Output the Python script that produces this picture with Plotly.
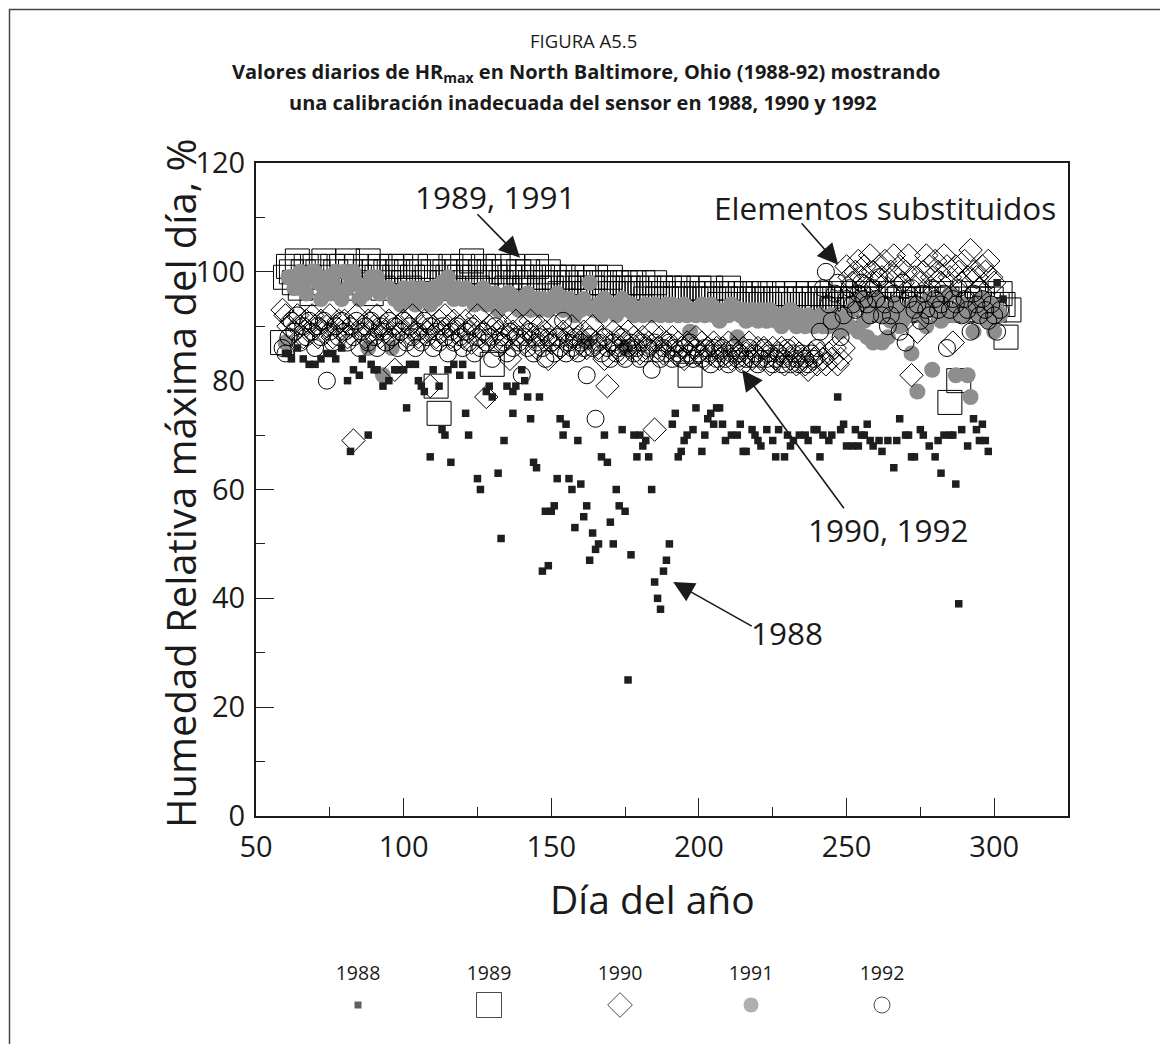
import plotly.graph_objects as go

# ---- data ----
days88 = [60, 61, 62, 64, 66, 68, 70, 72, 74, 76, 77, 79, 81, 82, 83, 85, 86, 88, 89, 90,
          91, 93, 95, 97, 98, 100, 101, 102, 104, 105, 106, 107, 109, 110, 112, 113, 114, 115, 116, 117,
          119, 120, 121, 122, 123, 125, 126, 128, 129, 130, 132, 133, 134, 135, 137, 137, 138, 140, 141, 142,
          143, 144, 145, 146, 147, 148, 149, 150, 151, 152, 153, 154, 155, 156, 157, 158, 159, 160, 161, 162,
          163, 164, 165, 166, 167, 168, 169, 170, 171, 172, 173, 174, 175, 176, 177, 178, 179, 180, 181, 182,
          183, 184, 185, 186, 187, 188, 189, 190, 191, 192, 193, 194, 195, 196, 198, 199, 201, 202, 203, 204,
          205, 206, 207, 208, 209, 211, 213, 214, 215, 216, 218, 219, 220, 221, 223, 225, 226, 227, 229, 230,
          231, 232, 234, 236, 237, 239, 240, 241, 242, 244, 245, 247, 248, 249, 250, 252, 253, 254, 255, 256,
          257, 258, 259, 261, 262, 264, 266, 267, 268, 270, 271, 272, 273, 275, 276, 278, 280, 281, 282, 283,
          285, 286, 287, 288, 289, 291, 293, 294, 295, 296, 297, 298, 301, 303]
rh88 = [85, 85, 84, 86, 84, 83, 83, 84, 85, 85, 84, 86, 80, 67, 82, 81, 84, 70, 83, 82,
        82, 79, 80, 82, 82, 82, 75, 83, 83, 80, 79, 78, 66, 82, 79, 71, 70, 82, 65, 83,
        81, 83, 74, 70, 81, 62, 60, 78, 79, 77, 63, 51, 69, 79, 74, 78, 79, 82, 80, 77,
        73, 65, 64, 77, 45, 56, 46, 56, 57, 62, 73, 70, 72, 62, 60, 53, 69, 61, 55, 57,
        47, 52, 49, 50, 66, 70, 65, 54, 50, 60, 57, 71, 56, 25, 48, 70, 66, 70, 68, 69,
        66, 60, 43, 40, 38, 45, 47, 50, 72, 74, 66, 67, 69, 70, 71, 75, 67, 70, 73, 74,
        72, 75, 75, 72, 69, 70, 70, 72, 67, 67, 71, 70, 69, 68, 71, 69, 66, 71, 66, 70,
        68, 69, 70, 70, 69, 71, 71, 66, 70, 69, 70, 77, 71, 72, 68, 68, 71, 68, 70, 70,
        72, 69, 68, 69, 67, 69, 64, 69, 73, 70, 70, 66, 66, 71, 70, 68, 66, 69, 63, 70,
        70, 70, 61, 39, 71, 68, 73, 71, 69, 72, 69, 67, 98, 95]

days89 = list(range(59, 306))
rh89 = [87, 99, 101, 100, 98, 102, 97, 100, 101, 99, 96, 101, 100, 98, 102, 99, 97, 101, 100, 98,
        101, 99, 102, 100, 97, 101, 99, 98, 100, 102, 96, 100, 99, 101, 97, 100, 98, 101, 99, 100,
        101, 98, 100, 97, 99, 101, 100, 96, 98, 99, 101, 100, 79, 74, 98, 100, 99, 101, 97, 100,
        99, 101, 98, 100, 102, 99, 97, 100, 101, 98, 100, 83, 99, 101, 98, 100, 97, 99, 101, 98,
        100, 99, 97, 100, 98, 99, 101, 97, 99, 98, 100, 97, 99, 98, 96, 99, 98, 97, 99, 96,
        98, 97, 99, 96, 98, 97, 99, 98, 96, 98, 97, 99, 96, 98, 97, 96, 98, 97, 96, 98,
        97, 96, 98, 95, 97, 96, 98, 95, 97, 96, 95, 97, 96, 95, 97, 96, 95, 97, 81, 96,
        95, 97, 96, 95, 96, 97, 95, 96, 94, 96, 95, 97, 95, 96, 94, 96, 95, 96, 94, 95,
        96, 95, 94, 96, 95, 94, 96, 95, 94, 95, 96, 94, 95, 94, 96, 95, 94, 95, 96, 94,
        95, 94, 96, 95, 94, 95, 93, 95, 94, 96, 94, 95, 93, 95, 94, 95, 93, 94, 96, 94,
        95, 93, 94, 95, 93, 94, 96, 94, 93, 95, 94, 93, 95, 94, 93, 95, 94, 93, 95, 94,
        93, 95, 94, 96, 93, 95, 76, 94, 93, 80, 94, 93, 95, 94, 96, 93, 94, 95, 93, 94,
        95, 93, 94, 96, 94, 88, 93]

days90 = list(range(59, 301))
rh90 = [93, 92, 90, 91, 89, 92, 90, 88, 91, 89, 92, 90, 88, 91, 89, 90, 92, 88, 90, 91,
        89, 91, 88, 90, 69, 92, 89, 90, 88, 91, 89, 90, 92, 88, 90, 89, 91, 88, 82, 90,
        89, 91, 88, 90, 92, 89, 88, 90, 91, 89, 79, 90, 88, 91, 89, 92, 90, 88, 91, 89,
        90, 88, 91, 89, 87, 90, 92, 88, 89, 77, 90, 88, 91, 89, 87, 90, 88, 84, 89, 91,
        88, 90, 87, 89, 91, 88, 86, 90, 88, 89, 84, 87, 90, 88, 86, 89, 87, 88, 90, 86,
        88, 87, 89, 86, 88, 90, 87, 86, 88, 84, 79, 87, 89, 86, 88, 85, 87, 89, 86, 88,
        87, 85, 88, 86, 87, 89, 71, 86, 88, 85, 87, 86, 88, 85, 87, 86, 84, 87, 85, 86,
        88, 85, 87, 84, 86, 85, 87, 86, 84, 86, 85, 87, 84, 86, 85, 84, 86, 85, 87, 84,
        85, 86, 84, 86, 85, 83, 86, 84, 85, 86, 83, 85, 84, 86, 83, 85, 84, 83, 82, 85,
        84, 83, 85, 84, 83, 85, 84, 86, 83, 84, 86, 101, 99, 98, 100, 102, 99, 101, 97, 103,
        100, 98, 101, 99, 102, 97, 100, 103, 99, 101, 98, 100, 103, 81, 99, 89, 98, 100, 103, 101,
        99, 102, 100, 98, 103, 101, 99, 87, 101, 100, 98, 102, 99, 104, 100, 99, 97, 101, 100, 102,
        99, 98]

days91 = list(range(60, 303))
rh91 = [87, 99, 99, 97, 98, 100, 97, 96, 99, 100, 100, 98, 95, 97, 99, 96, 98, 100, 96, 95,
        100, 97, 99, 100, 98, 95, 97, 96, 86, 99, 98, 99, 96, 81, 97, 97, 86, 95, 96, 94,
        97, 96, 95, 97, 94, 96, 97, 95, 96, 94, 97, 95, 96, 98, 97, 99, 96, 95, 97, 96,
        95, 97, 96, 96, 94, 96, 95, 97, 94, 96, 95, 96, 93, 95, 94, 96, 96, 94, 95, 93,
        95, 94, 96, 93, 94, 95, 93, 95, 94, 93, 95, 94, 96, 95, 93, 94, 95, 93, 92, 94,
        93, 95, 87, 98, 93, 93, 94, 92, 95, 93, 94, 93, 92, 94, 95, 86, 93, 94, 92, 93,
        93, 92, 94, 93, 92, 94, 93, 92, 93, 94, 92, 94, 93, 92, 93, 94, 92, 89, 93, 92,
        93, 94, 92, 93, 94, 92, 93, 91, 92, 93, 92, 94, 93, 88, 92, 93, 91, 92, 93, 92,
        91, 93, 92, 91, 93, 92, 91, 92, 90, 92, 91, 93, 91, 90, 92, 91, 90, 92, 91, 90,
        91, 92, 90, 91, 90, 92, 91, 90, 89, 91, 92, 90, 93, 94, 89, 95, 91, 88, 93, 87,
        95, 92, 87, 93, 88, 91, 94, 92, 90, 91, 93, 92, 85, 94, 78, 92, 93, 90, 95, 82,
        93, 94, 91, 95, 93, 96, 92, 81, 93, 94, 92, 81, 77, 89, 94, 92, 95, 93, 91, 94,
        89, 93, 92]

days92 = list(range(59, 303))
rh92 = [86, 85, 88, 91, 89, 92, 87, 90, 88, 91, 89, 86, 90, 88, 91, 80, 89, 87, 90, 88,
        91, 89, 87, 90, 88, 91, 86, 89, 90, 87, 91, 88, 86, 90, 89, 87, 91, 88, 90, 86,
        89, 91, 87, 90, 88, 86, 89, 87, 91, 88, 90, 86, 89, 87, 90, 88, 85, 89, 87, 90,
        88, 86, 89, 87, 90, 85, 88, 86, 89, 87, 88, 84, 90, 86, 88, 87, 85, 89, 86, 88,
        87, 81, 88, 86, 89, 85, 87, 88, 86, 84, 88, 87, 85, 88, 86, 91, 85, 87, 86, 88,
        85, 87, 86, 81, 88, 86, 73, 87, 85, 88, 86, 84, 87, 85, 86, 88, 84, 86, 87, 85,
        86, 84, 87, 85, 86, 82, 87, 85, 84, 86, 85, 87, 84, 86, 85, 84, 86, 85, 87, 84,
        86, 85, 84, 86, 85, 83, 86, 84, 85, 86, 84, 83, 85, 86, 84, 85, 83, 84, 86, 84,
        85, 83, 84, 86, 84, 85, 83, 84, 85, 83, 84, 86, 83, 85, 84, 83, 85, 84, 83, 85,
        84, 86, 89, 97, 100, 94, 91, 96, 98, 88, 92, 95, 97, 94, 93, 96, 98, 95, 94, 92,
        97, 95, 99, 92, 94, 90, 92, 96, 94, 89, 98, 87, 95, 97, 93, 94, 91, 96, 93, 92,
        97, 95, 93, 94, 96, 86, 93, 95, 94, 97, 92, 95, 93, 89, 96, 94, 92, 95, 93, 91,
        94, 92, 89, 93]

years = ["1988", "1989", "1990", "1991", "1992"]

FONT = "Open Sans"
INK = "#1a1a1a"

# The page body adds an 8px margin, so the figure is 8px smaller and every
# reference pixel position p (in the 1168x1044 picture) is mapped through px/py.
OFF = 8
W, H = 1168 - OFF, 1044 - OFF
L, R, T, B = 256 - OFF, 100, 163 - OFF, 12
PH = H - T - B
PW = W - L - R


def py(p):
    return (H - B - (p - OFF)) / PH


def px(p):
    return (p - OFF - L) / PW


fig = go.Figure()

fig.add_trace(go.Scatter(x=days89, y=rh89, mode="markers",
                         marker=dict(symbol="square-open", size=24, color="black", line=dict(width=1))))
fig.add_trace(go.Scatter(x=days91, y=rh91, mode="markers",
                         marker=dict(symbol="circle", size=16, color="#8e8e8e", line=dict(width=0))))
fig.add_trace(go.Scatter(x=days90, y=rh90, mode="markers",
                         marker=dict(symbol="diamond-open", size=18, color="black", line=dict(width=1))))
fig.add_trace(go.Scatter(x=days92, y=rh92, mode="markers",
                         marker=dict(symbol="circle-open", size=17, color="black", line=dict(width=1))))
fig.add_trace(go.Scatter(x=days88, y=rh88, mode="markers",
                         marker=dict(symbol="square", size=7.5, color="#1e1e1e", line=dict(width=0))))

# custom legend (labels above symbols), placed on a hidden pixel-scaled axis
leg_x = [358, 489, 620, 751, 882]
leg_sym_y, leg_lab_y = 1005, 975
fig.add_trace(go.Scatter(x=leg_x, y=[leg_sym_y] * 5, mode="markers", xaxis="x2", yaxis="y2",
                         marker=dict(symbol=["square", "square-open", "diamond-open", "circle", "circle-open"],
                                     size=[8, 25, 19, 16, 16],
                                     color=["#1e1e1e", "black", "black", "#8e8e8e", "black"],
                                     line=dict(width=1))))
fig.add_trace(go.Scatter(x=leg_x, y=[leg_lab_y] * 5, mode="text", text=years, xaxis="x2", yaxis="y2",
                         textfont=dict(family=FONT, size=19.5, color=INK)))

main_dom = py(816)
leg_top = py(900)
fig.update_layout(
    template="none",
    width=W, height=H,
    margin=dict(l=L, r=R, t=T, b=B, autoexpand=False),
    paper_bgcolor="white", plot_bgcolor="white",
    showlegend=False,
    font=dict(family=FONT, color=INK),
    xaxis=dict(range=[50, 325], domain=[0, 1], anchor="y", tickvals=[50, 100, 150, 200, 250, 300],
               ticks="inside", ticklen=18, tickwidth=1, tickcolor="#222",
               minor=dict(tickvals=[75, 125, 175, 225, 275], ticks="inside", ticklen=9, tickcolor="#222"),
               showline=True, linecolor=INK, linewidth=2, mirror=True, automargin=False,
               showgrid=False, zeroline=False, ticklabelstandoff=4,
               tickfont=dict(family=FONT, size=29, color=INK)),
    yaxis=dict(range=[0, 120], domain=[main_dom, 1], anchor="x", dtick=20,
               ticks="inside", ticklen=18, tickwidth=1, tickcolor="#222",
               minor=dict(dtick=10, ticks="inside", ticklen=9, tickcolor="#222"),
               showline=True, linecolor=INK, linewidth=2, mirror=True, automargin=False,
               showgrid=False, zeroline=False, ticklabelstandoff=3,
               tickfont=dict(family=FONT, size=29, color=INK)),
    # pixel-scaled helper axes for the legend: values are reference picture pixels
    xaxis2=dict(range=[256, 1068], domain=[0, 1], anchor="y2", visible=False),
    yaxis2=dict(range=[H - B + OFF, 900], domain=[0, leg_top], anchor="x2", visible=False),
)


# titles
def paper_text(text, x, y, size, angle=0):
    fig.add_annotation(xref="paper", yref="paper", x=px(x), y=py(y), text=text, textangle=angle,
                       xanchor="center", yanchor="middle", showarrow=False, font=dict(size=size))


paper_text("FIGURA A5.5", 583, 40, 18.5)
paper_text("<b>Valores diarios de HR<sub>max</sub> en North Baltimore, Ohio (1988-92) mostrando</b>", 586, 72, 20)
paper_text("<b>una calibración inadecuada del sensor en 1988, 1990 y 1992</b>", 583, 102, 20)
paper_text("Día del año", 652, 898, 39)
paper_text("Humedad Relativa máxima del día, %", 181, 484, 40, angle=-90)

# callouts
labels = [("1989, 1991", 131.0, 113.8), ("Elementos substituidos", 263.1, 111.8),
          ("1990, 1992", 264.1, 52.6), ("1988", 229.9, 33.8)]
for t, x, y in labels:
    fig.add_annotation(x=x, y=y, text=t, showarrow=False, xanchor="center", yanchor="middle",
                       font=dict(size=31.5))
arrows = [(139.4, 102.6, -44, -45), (247.2, 101.3, -38, -43), (214.6, 82.0, 103, 140), (191.3, 43.0, 80, 45)]
for x, y, ax, ay in arrows:
    fig.add_annotation(x=x, y=y, ax=ax, ay=ay, text="", showarrow=True, arrowhead=2,
                       arrowsize=2.6, arrowwidth=1.6, arrowcolor=INK, standoff=0)

# outer frame (open at the bottom, as in the cropped original)
fig.add_shape(type="rect", xref="paper", yref="paper", x0=px(9.5), x1=px(1163), y0=py(1070), y1=py(9.5),
              line=dict(color="#444", width=1.5))

fig.write_html("out.html")
